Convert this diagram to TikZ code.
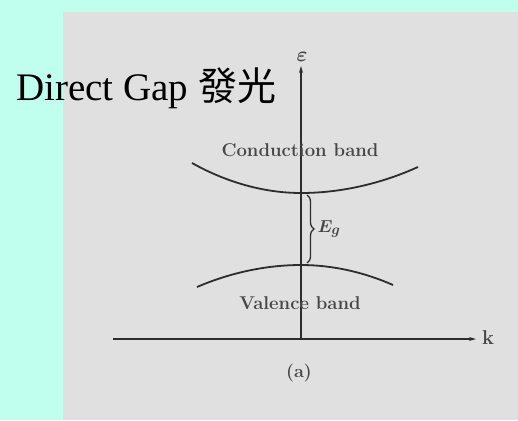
\documentclass[tikz,border=0pt]{standalone}
\usepackage{fontspec}
\usepackage{tikz}
\usetikzlibrary{
  arrows.meta,              % Stealth 箭头
  decorations.pathreplacing % 大括号装饰
}
\newfontfamily\titlefont{Liberation Serif}
\newfontfamily\cjk{Noto Sans CJK TC}
\definecolor{bgcyan}{RGB}{192,255,238}
\definecolor{panelgray}{RGB}{224,224,224}
\definecolor{inkgray}{RGB}{45,45,45}
\definecolor{textgray}{RGB}{70,70,70}
\tikzset{
  axis line/.style={
    -{Stealth[length=7pt,width=4pt]},
    line width=1.3pt,
    color=inkgray
  },
  band curve/.style={
    line width=1.8pt,
    color=inkgray
  },
  band label/.style={
    font=\fontsize{18.5}{18.5}\selectfont\bfseries,
    color=textgray,
    inner sep=0pt
  },
  gap brace/.style={
    decorate,
    decoration={brace, amplitude=7pt},
    line width=1.3pt,
    color=inkgray
  }
}

\begin{document}
\begin{tikzpicture}[x=1pt, y=-1pt]
    % 背景与扫描图底色
    \fill[bgcyan] (0,0) rectangle (518,420);
    \fill[panelgray] (63,12) rectangle (518,420);
    \useasboundingbox (0,0) rectangle (518,420);

    % --- 坐标轴 ---
    \coordinate (origin) at (301,339);
    \coordinate (ytop) at (301,66);
    \coordinate (xleft) at (113,339);
    \coordinate (xright) at (476,339);
    \draw[axis line] (origin) -- (ytop);
    \draw[axis line] (xleft) -- (xright);
    \node[color=textgray, inner sep=0pt, font=\fontsize{22}{22}\selectfont\boldmath] (epslabel) at (302,57) {$\varepsilon$};
    \node[color=textgray, inner sep=0pt, font=\fontsize{20}{20}\selectfont\bfseries] (klabel) at (488,338) {k};

    % --- 导带与价带 ---
    \coordinate (cbmin) at (301,193);
    \coordinate (vbmax) at (301,265);
    \draw[band curve] (192,163) parabola bend (cbmin) (418,167);
    \draw[band curve] (197,287) parabola bend (vbmax) (393,285);
    \node[band label] (cband) at (300,150) {Conduction band};
    \node[band label] (vband) at (300,303) {Valence band};

    % 能隙大括号
    \coordinate (bracetop) at (307,195);
    \coordinate (bracebot) at (307,263);
    \draw[gap brace] (bracetop) -- (bracebot) node[midway, right=10pt, inner sep=0pt, color=textgray, font=\fontsize{19}{19}\selectfont\boldmath] (gaplabel) {$E_g$};

    \node[color=textgray, inner sep=0pt, font=\fontsize{18}{18}\selectfont\bfseries] (caption) at (299,373) {(a)};

    % 标题
    \node[anchor=base west, inner sep=0pt, font=\fontsize{39}{39}\selectfont] (title) at (16,100) {\titlefont Direct Gap \cjk 發光};
\end{tikzpicture}
\end{document}
